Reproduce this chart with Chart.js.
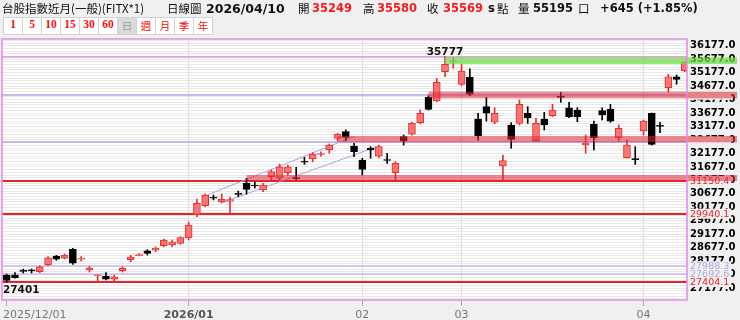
<!DOCTYPE html>
<html lang="zh-Hant">
<head>
<meta charset="utf-8">
<title>台股指數近月 日線圖</title>
<script src="https://cdn.jsdelivr.net/npm/chart.js@4.4.1/dist/chart.umd.min.js"></script>
<style>
  body { margin: 0; width: 740px; height: 320px; overflow: hidden; position: relative;
         background: #f0f0f0; font-family: "DejaVu Sans", "Noto Sans CJK TC", sans-serif; }
  #kline { position: absolute; left: 0; top: 0; }
  .t   { position: absolute; top: 0; line-height: 17px; font-size: 11.5px; color: #111; white-space: nowrap; z-index: 2; }
  .cjk { font-family: "Noto Sans CJK TC", sans-serif; }
  .b   { font-weight: bold; }
  .r   { color: #f01e1e; }
  #btns { position: absolute; left: 3px; top: 17px; display: flex; z-index: 2; }
  #btns div { width: 18px; height: 16px; line-height: 16px; border: 1px solid #d2d2d2; margin-right: -1px;
              background: #fff; color: #e81414; text-align: center; font: bold 11.5px "Liberation Serif", serif; }
  #btns div.c { font: 10.5px "Noto Sans CJK TC", sans-serif; line-height: 16px; }
  #btns div.on { background: #dadada; color: #9a9a9a; }
</style>
</head>
<body>

<span class="t cjk" style="left:2px">台股指數近月(一般)(FITX*1)</span>
<span class="t cjk" style="left:167px">日線圖</span>
<span class="t b" style="left:206px;font-size:12.5px">2026/04/10</span>
<span class="t cjk" style="left:298px">開</span>
<span class="t b r" style="left:312px">35249</span>
<span class="t cjk" style="left:363px">高</span>
<span class="t b r" style="left:377px">35580</span>
<span class="t cjk" style="left:427px">收</span>
<span class="t b r" style="left:443px">35569</span>
<span class="t b" style="left:488px">s</span>
<span class="t cjk" style="left:497px">點</span>
<span class="t cjk" style="left:518px">量</span>
<span class="t b" style="left:533px">55195</span>
<span class="t cjk" style="left:578px">口</span>
<span class="t b" style="left:600px">+645 (+1.85%)</span>

<div id="btns">
  <div>1</div><div>5</div><div>10</div><div>15</div><div>30</div><div>60</div>
  <div class="c on">日</div><div class="c">週</div><div class="c">月</div><div class="c">季</div><div class="c">年</div>
</div>

<canvas id="kline" width="740" height="320"></canvas>

<script>
'use strict';

// ── Trading days ──────────────────────────────────────────────
const monthKeys = ['2025/12', '2026/01', '2026/02', '2026/03', '2026/04'];
const monthDays = [
  [1, 2, 3, 4, 5, 8, 9, 10, 11, 12, 15, 16, 17, 18, 19, 22, 23, 24, 26, 29, 30, 31],
  [2, 5, 6, 7, 8, 9, 12, 13, 14, 15, 16, 19, 20, 21, 22, 23, 26, 27, 28, 29, 30],
  [2, 3, 4, 5, 6, 9, 10, 11, 23, 24, 25, 26],
  [2, 3, 4, 5, 6, 9, 10, 11, 12, 13, 16, 17, 18, 19, 20, 23, 24, 25, 26, 27, 30, 31],
  [1, 2, 7, 8, 9, 10]
];
const xTickLabels = ['2025/12/01', '2026/01', '02', '03', '04'];
const yTickLabels = [27177, 27677, 28177, 28677, 29177, 29677, 30177, 30677, 31177,
                     31677, 32177, 32677, 33177, 33677, 34177, 34677, 35177, 35677, 36177];

// ── OHLC (Dec / Jan / Feb / Mar / Apr) ────────────────────────
const opens = [
  27664, 27664, 27815, 27830, 27786, 28035, 28370, 28285, 28620, 28255, 27850, 27630, 27625, 27505, 27825, 28230, 28385, 28565, 28590, 28750, 28780, 28840,
  29040, 29910, 30235, 30560, 30375, 30410, 30690, 31070, 31005, 30820, 31315, 31255, 31460, 31285, 31885, 31970, 32140, 32305, 32740, 32985, 32455,
  31935, 32380, 32080, 31945, 31460, 32800, 32890, 33320, 34260, 34125, 35210, 35575,
  34745, 35005, 33455, 33915, 33335, 31710, 33235, 33295, 33670, 32640, 33455, 33580, 34300, 33875, 33790, 32490, 33260, 33765, 33825, 32760, 32020, 31990,
  33010, 33670, 33215, 34620, 35025, 35249
];
const highs = [
  27701, 27750, 27885, 27885, 28010, 28345, 28395, 28445, 28655, 28345, 27985, 27675, 27750, 27665, 27970, 28395, 28455, 28605, 28705, 29000, 28965, 29085,
  29630, 30485, 30670, 30635, 30670, 30550, 30785, 31255, 31115, 31070, 31565, 31785, 31750, 31665, 32035, 32205, 32240, 32530, 32925, 33050, 32555,
  32000, 32430, 32490, 32185, 31870, 32860, 33335, 33790, 34320, 34965, 35777, 35740,
  35485, 35315, 33670, 34260, 33875, 32120, 33320, 34160, 33915, 33480, 33705, 34000, 34450, 34075, 33875, 32860, 33380, 33875, 34000, 33235, 32675, 32430,
  33420, 33680, 33335, 35115, 35090, 35580
];
const lows = [
  27401, 27550, 27740, 27740, 27750, 28000, 28210, 28260, 28060, 28185, 27775, 27415, 27480, 27415, 27775, 28160, 28370, 28405, 28530, 28715, 28715, 28805,
  28965, 29830, 30200, 30450, 30350, 29980, 30570, 30670, 30895, 30755, 31190, 31190, 31375, 31190, 31775, 31870, 32080, 32185, 32650, 32650, 32055,
  31375, 32000, 32020, 31810, 31190, 32490, 32860, 33280, 33790, 34100, 35025, 35340,
  34695, 34320, 32675, 33380, 33280, 31155, 32370, 33235, 33295, 32620, 33050, 33540, 34075, 33505, 33355, 32185, 32305, 33420, 33335, 32640, 32000, 31775,
  32860, 32490, 32945, 34450, 34745, 35210
];
const closes = [
  27460, 27565, 27800, 27815, 27972, 28305, 28250, 28405, 28100, 28270, 27935, 27665, 27505, 27600, 27915, 28330, 28425, 28470, 28655, 28965, 28900, 29050,
  29520, 30325, 30635, 30520, 30475, 30465, 30655, 30845, 30970, 31005, 31500, 31685, 31685, 31240, 31850, 32155, 32170, 32490, 32900, 32775, 32240,
  31580, 32305, 32430, 31915, 31810, 32640, 33295, 33670, 33815, 34820, 35490, 35600,
  35240, 34375, 32835, 33670, 33670, 31910, 32700, 34000, 33505, 33295, 33235, 33790, 34260, 33540, 33540, 32565, 32760, 33605, 33380, 33110, 32490, 31950,
  33380, 32515, 33180, 35025, 34924, 35569
];

// ── Drawn levels, bands and channel lines ─────────────────────
const levelValues = [35777, 34358.0, 32619.1, 31150.4, 29940.1, 27988.3, 27692.6, 27404.1];
const levelKinds  = ['high', 'mid', 'mid', 'support', 'support', 'low', 'low', 'support'];

const bandStart = [53, 51, 40, 29];        // candle index where the band begins
const bandLow   = [35500, 34225, 32591, 31154];
const bandHigh  = [35745, 34470, 32825, 31377];
const bandKinds = ['green', 'pink', 'pink', 'pink'];

const channelUpperX = [24.24, 42.13];
const channelUpperY = [30634, 32825];
const channelLowerX = [25.81, 44.67];
const channelLowerY = [30326, 32417];

// ── Styles ────────────────────────────────────────────────────
const RED_FILL   = '#f47676';
const RED_LINE   = '#e2302f';
const BLACK      = '#000000';
const LAVENDER   = '#b2a2e6';
const LEVEL_STYLE = {
  high:    { line: '#e58be5', width: 1.5, text: null },
  mid:     { line: '#b8a6ea', width: 1.5, text: '#f6e8ee' },
  support: { line: '#e4242a', width: 2,   text: '#ee1d25' },
  low:     { line: '#c6b9ef', width: 1.5, text: '#aea6de' }
};
const BAND_STYLE = { green: 'rgba(110,222,70,0.72)', pink: 'rgba(222,40,52,0.55)' };

// month start indices
const monthStarts = [];
monthDays.reduce((n, d) => { monthStarts.push(n); return n + d.length; }, 0);
const idx = opens.map((_, i) => i);
const isUp = i => closes[i] >= opens[i];

// ── Overlay plugin ────────────────────────────────────────────
const overlay = {
  id: 'overlay',
  beforeDraw(chart) {
    const { ctx, chartArea: a } = chart;
    ctx.save();
    ctx.fillStyle = '#ffffff';
    ctx.fillRect(a.left, a.top, a.right - a.left, a.bottom - a.top);
    ctx.restore();
  },
  beforeDatasetsDraw(chart) {
    const { ctx, chartArea: a, scales: { y } } = chart;
    ctx.save();
    levelValues.forEach((v, i) => {
      const st = LEVEL_STYLE[levelKinds[i]];
      const py = Math.round(y.getPixelForValue(v));
      ctx.strokeStyle = st.line;
      ctx.lineWidth = st.width;
      ctx.beginPath();
      ctx.moveTo(a.left, py);
      ctx.lineTo(a.right, py);
      ctx.stroke();
    });
    ctx.restore();
  },
  afterDatasetsDraw(chart) {
    const { ctx, chartArea: a, scales: { x, y } } = chart;
    ctx.save();

    // level value labels on the price axis
    ctx.font = '9.5px "DejaVu Sans"';
    ctx.textBaseline = 'middle';
    ctx.textAlign = 'left';
    levelValues.forEach((v, i) => {
      const st = LEVEL_STYLE[levelKinds[i]];
      if (!st.text) return;
      const py = y.getPixelForValue(v);
      const txt = v.toFixed(1);
      const w = ctx.measureText(txt).width;
      ctx.fillStyle = '#f0f0f0';
      ctx.fillRect(a.right + 2, py - 5, w + 3, 10);
      ctx.fillStyle = st.text;
      ctx.fillText(txt, a.right + 3, py + 0.5);
    });

    // translucent bands, over candles and axis labels
    bandStart.forEach((s, i) => {
      const x0 = x.getPixelForValue(s);
      const y0 = y.getPixelForValue(bandHigh[i]);
      const y1 = y.getPixelForValue(bandLow[i]);
      ctx.fillStyle = BAND_STYLE[bandKinds[i]];
      ctx.fillRect(x0, y0, chart.width - 3 - x0, y1 - y0);
    });

    // frame
    ctx.strokeStyle = '#e48ae4';
    ctx.lineWidth = 1.5;
    ctx.strokeRect(a.left, a.top, a.right - a.left, a.bottom - a.top);

    // high / low marks
    const hi = Math.max(...highs), lo = Math.min(...lows);
    const hiI = highs.indexOf(hi), loI = lows.indexOf(lo);
    ctx.font = 'bold 10.5px "DejaVu Sans"';
    ctx.fillStyle = '#111';
    ctx.textBaseline = 'alphabetic';
    ctx.textAlign = 'center';
    ctx.fillText(String(hi), x.getPixelForValue(hiI), y.getPixelForValue(hi) - 2);
    const loW = ctx.measureText(String(lo)).width;
    ctx.textAlign = 'left';
    ctx.fillText(String(lo), Math.max(a.left + 1, x.getPixelForValue(loI) - loW / 2),
                 y.getPixelForValue(lo) + 11);

    // date labels
    monthStarts.forEach((m, k) => {
      ctx.font = (k === 1 ? 'bold ' : '') + '11px "DejaVu Sans"';
      ctx.fillStyle = k === 1 ? '#555' : '#777';
      ctx.textAlign = k === 0 ? 'left' : 'center';
      ctx.fillText(xTickLabels[k], k === 0 ? 3 : x.getPixelForValue(m), 318);
    });
    ctx.restore();
  }
};

// ── Chart ─────────────────────────────────────────────────────
const yMin = 26736, yMax = 36427;

new Chart(document.getElementById('kline'), {
  type: 'bar',
  data: {
    datasets: [
      {
        label: 'wick',
        data: idx.map(i => ({ x: i, y: [lows[i], highs[i]] })),
        backgroundColor: idx.map(i => isUp(i) ? RED_LINE : BLACK),
        barThickness: 1,
        grouped: false,
        order: 2,
      },
      {
        label: 'body',
        data: idx.map(i => ({ x: i, y: [opens[i], closes[i]] })),
        backgroundColor: idx.map(i => isUp(i) ? RED_FILL : BLACK),
        borderColor: idx.map(i => isUp(i) ? RED_LINE : BLACK),
        borderWidth: 1,
        borderSkipped: false,
        barThickness: 7,
        minBarLength: 1,
        grouped: false,
        order: 1,
      },
      {
        type: 'line',
        label: 'upper',
        data: channelUpperX.map((v, k) => ({ x: v, y: channelUpperY[k] })),
        borderColor: LAVENDER, borderWidth: 1, pointRadius: 0, order: 3,
      },
      {
        type: 'line',
        label: 'lower',
        data: channelLowerX.map((v, k) => ({ x: v, y: channelLowerY[k] })),
        borderColor: LAVENDER, borderWidth: 1, pointRadius: 0, order: 3,
      },
    ],
  },
  options: {
    responsive: false,
    animation: false,
    events: [],
    devicePixelRatio: 1,
    layout: { padding: { left: 2, top: 39, right: 0, bottom: 0 } },
    plugins: { legend: { display: false }, tooltip: { enabled: false } },
    scales: {
      x: {
        type: 'linear',
        offset: false,
        min: -0.57,
        max: 82.26,
        afterBuildTicks: s => { s.ticks = monthStarts.map(v => ({ value: v })); },
        afterFit: s => { s.height = 20; },
        border: { display: false },
        grid: {
          offset: false,
          color: c => c.index === 0 ? 'rgba(0,0,0,0)' : '#dcdcdc',
          tickColor: '#a8a8a8',
          tickLength: 6,
        },
        ticks: { display: false },
      },
      y: {
        position: 'right',
        min: yMin,
        max: yMax,
        afterBuildTicks: s => {
          const t = [];
          for (let v = yTickLabels[0] - 400; v <= yMax; v += 100) t.push({ value: v });
          s.ticks = t;
        },
        afterFit: s => { s.width = 53; },
        border: { display: false },
        grid: { color: '#e8e8e8', lineWidth: 1, drawTicks: false },
        ticks: {
          autoSkip: false,
          padding: 3,
          color: '#000',
          font: { family: 'DejaVu Sans', size: 10, weight: 'bold' },
          callback: v => yTickLabels.includes(v) ? v.toFixed(1) : '',
        },
      },
    },
  },
  plugins: [overlay],
});
</script>
</body>
</html>
